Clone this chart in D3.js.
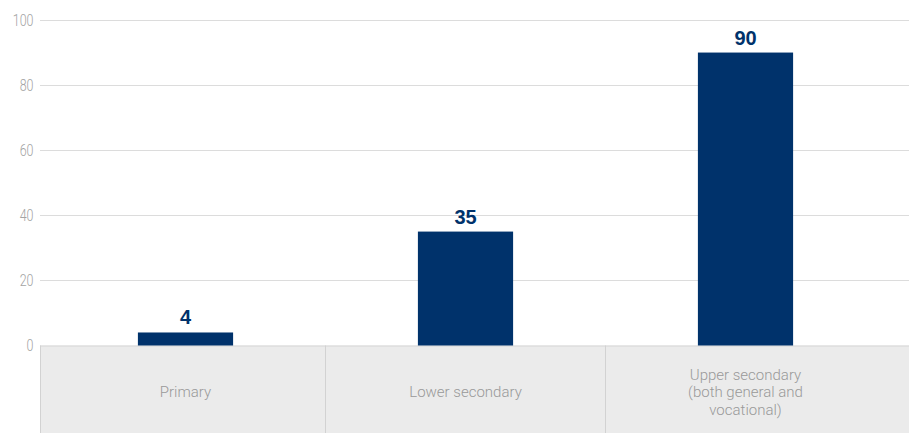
<!DOCTYPE html>
<html><head><meta charset="utf-8">
<script src="https://cdn.jsdelivr.net/npm/d3@7"></script>
<style>body{margin:0;background:#fff}svg{display:block;font-family:Roboto,"Liberation Sans",sans-serif}</style>
</head><body>
<svg id="c" width="909" height="433"></svg>
<script>
const categories = ["Primary", "Lower secondary", "Upper secondary\n(both general and\nvocational)"];
const values = [4, 35, 90];
const yTicks = [0, 20, 40, 60, 80, 100];

(function(){
const W = 909, H = 433;
const svg = d3.select("#c");
const mLeft = 40, mRight = 909, mTop = 20, mBottom = 345.5;

const x = d3.scaleBand().domain(categories).range([45.5, 885.5]).paddingInner(0.66).paddingOuter(0.33);
const y = d3.scaleLinear().domain([0, 100]).range([mBottom, mTop]);

// gridlines
svg.append("g").selectAll("line").data(yTicks.filter(d=>d>0)).join("line")
  .attr("x1", mLeft).attr("x2", mRight)
  .attr("y1", d=>Math.round(y(d))+0.5).attr("y2", d=>Math.round(y(d))+0.5)
  .attr("stroke", "#dcdcdc").attr("stroke-width", 1);

// tick labels (condensed look)
svg.append("g").selectAll("text").data(yTicks).join("text")
  .attr("transform", d=>`translate(33.5,${y(d)}) scale(0.78,1)`)
  .attr("dy", "0.35em")
  .attr("text-anchor", "end").attr("font-size", 16).attr("font-weight", 300)
  .attr("fill", "#a3a3a3").text(d=>d);

// category box
svg.append("rect").attr("x", mLeft).attr("y", mBottom).attr("width", mRight-mLeft).attr("height", H-mBottom)
  .attr("fill", "#ebebeb");
svg.append("line").attr("x1", mLeft).attr("x2", mRight).attr("y1", mBottom+0.5).attr("y2", mBottom+0.5)
  .attr("stroke", "#d6d6d6");
const step = x.step();
const seps = [mLeft].concat(categories.slice(1).map(c => x(c) + x.bandwidth()/2 - step/2));
svg.append("g").selectAll("line").data(seps).join("line")
  .attr("x1", d=>Math.floor(d)+0.5).attr("x2", d=>Math.floor(d)+0.5)
  .attr("y1", mBottom).attr("y2", H).attr("stroke", "#d2d2d2");

// category labels
const cl = svg.append("g").selectAll("text").data(categories).join("text")
  .attr("text-anchor", "middle").attr("font-size", 15).attr("font-weight", 300).attr("fill", "#999999");
cl.each(function(d){
  const lines = d.split("\n");
  const cx = x(d) + x.bandwidth()/2;
  const lh = 17.6;
  const y0 = 392 - (lines.length-1)*lh/2;
  d3.select(this).selectAll("tspan").data(lines).join("tspan")
    .attr("x", cx).attr("y", (l,i)=>y0 + i*lh).attr("dy", "0.35em").text(l=>l);
});

// bars
svg.append("g").selectAll("rect").data(values).join("rect")
  .attr("x", (d,i)=>x(categories[i])).attr("width", x.bandwidth())
  .attr("y", d=>y(d)).attr("height", d=>y(0)-y(d))
  .attr("fill", "#00326b");

// value labels
svg.append("g").selectAll("text").data(values).join("text")
  .attr("x", (d,i)=>x(categories[i]) + x.bandwidth()/2).attr("y", d=>y(d) - 8)
  .attr("text-anchor", "middle").attr("font-size", 20).attr("font-weight", 700)
  .style("font-family", "'Liberation Sans', Arial, sans-serif")
  .attr("fill", "#00326b").text(d=>d);
})();
</script>
</body></html>
